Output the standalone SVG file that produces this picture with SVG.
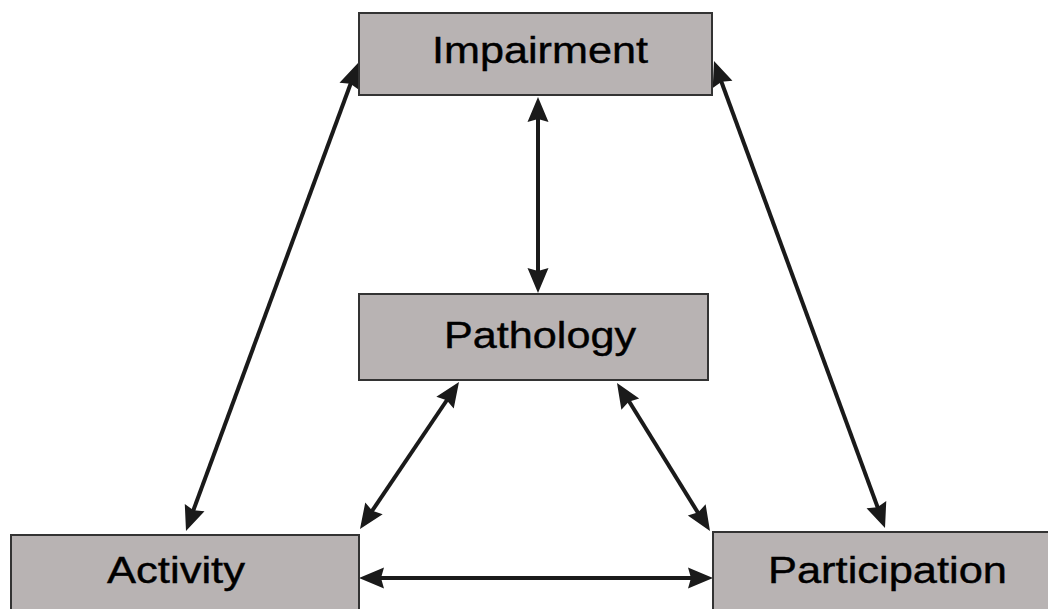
<svg xmlns="http://www.w3.org/2000/svg" width="1048" height="609" viewBox="0 0 1048 609">
<style>
.box{fill:#b8b3b3;stroke:#333;stroke-width:2}
.lbl{font-family:"Liberation Sans",Arial,sans-serif;font-size:36px;fill:#000;stroke:#000;stroke-width:0.4}
.con{stroke:#1a1a1a;stroke-width:4;fill:none}
.head{fill:#1a1a1a}
</style>
<defs>
<path id="hd" class="head" d="M0,0 L-25,-10.5 L-22,0 L-25,10.5 Z"/>
</defs>
<rect width="1048" height="609" fill="#fff"/>
<g id="connectors">
<line class="con" x1="538" y1="115" x2="538" y2="275"/>
<use href="#hd" transform="translate(538,97) rotate(-90)"/>
<use href="#hd" transform="translate(538,293) rotate(90)"/>
<line class="con" x1="352" y1="80" x2="192" y2="514"/>
<use href="#hd" transform="translate(358,63) rotate(-69.8)"/>
<use href="#hd" transform="translate(186,531) rotate(110.2)"/>
<line class="con" x1="720" y1="78" x2="879" y2="511"/>
<use href="#hd" transform="translate(714,61) rotate(-110.1)"/>
<use href="#hd" transform="translate(885,528) rotate(69.9)"/>
<line class="con" x1="449" y1="397" x2="370" y2="514"/>
<use href="#hd" transform="translate(459,382) rotate(-56)"/>
<use href="#hd" transform="translate(360,529) rotate(124)"/>
<line class="con" x1="627" y1="398" x2="700" y2="516"/>
<use href="#hd" transform="translate(617,383) rotate(-122.1)"/>
<use href="#hd" transform="translate(710,531) rotate(57.9)"/>
<line class="con" x1="378" y1="578" x2="694" y2="578"/>
<use href="#hd" transform="translate(359,578) rotate(180)"/>
<use href="#hd" transform="translate(713,578)"/>
</g>
<g id="impairment">
<rect class="box" x="359" y="13" width="353" height="82"/>
<text class="lbl" x="432" y="63" textLength="216" lengthAdjust="spacingAndGlyphs">Impairment</text>
</g>
<g id="pathology">
<rect class="box" x="359" y="294" width="349" height="86"/>
<text class="lbl" x="444" y="348" textLength="192" lengthAdjust="spacingAndGlyphs">Pathology</text>
</g>
<g id="activity">
<rect class="box" x="11" y="535" width="348" height="90"/>
<text class="lbl" x="107" y="583" textLength="138" lengthAdjust="spacingAndGlyphs">Activity</text>
</g>
<g id="participation">
<rect class="box" x="713" y="532" width="350" height="90"/>
<text class="lbl" x="768" y="583" textLength="239" lengthAdjust="spacingAndGlyphs">Participation</text>
</g>
</svg>
